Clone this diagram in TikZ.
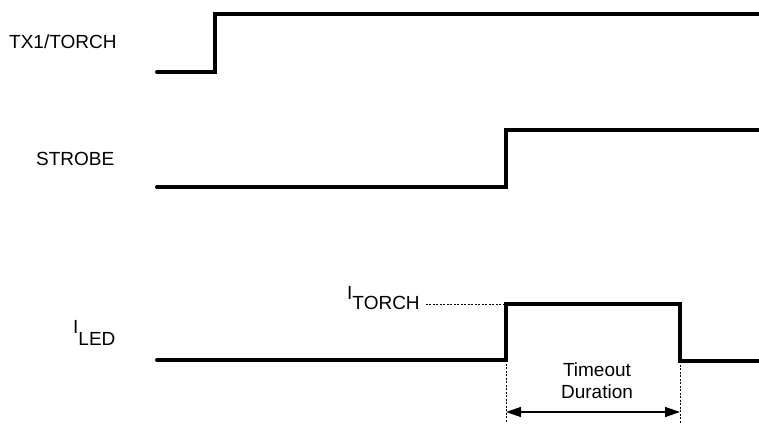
\documentclass[tikz,border=0pt]{standalone}
\usepackage{fontspec}
\setmainfont{Liberation Sans}
\usetikzlibrary{arrows.meta}

\begin{document}
\begin{tikzpicture}[x = 1pt, y = -1pt, font = \fontsize{19}{22}\selectfont,
        wave/.style = {line width = 4pt, line cap = round},
        guide/.style = {line width = 0.9pt, dash pattern = on 2pt off 1.5pt},
        label/.style = {anchor = base west, inner sep = 0pt}]
        \useasboundingbox (0,0) rectangle (759,423);

        \node [label] (tx) at (9,48) {TX1/TORCH};
        \node [label] (strobe) at (36,165) {STROBE};
        \node [label] (iled) at (73,333) {I\raisebox{-12pt}{LED}};
        \node [label] (itorch) at (347,299) {I\raisebox{-10pt}{TORCH}};

        \coordinate (rise) at (506,304);
        \coordinate (fall) at (680,304);
        \coordinate (riselow) at (506,360);
        \coordinate (falllow) at (680,361);
        \coordinate (risebot) at (506,423);
        \coordinate (fallbot) at (680,423);
        \coordinate (arrowl) at (506,412);
        \coordinate (arrowr) at (680,412);

        \draw [wave] (157,72) -- (215,72) -- (215,14) -- (765,14);
        \draw [wave] (157,187) -- (506,187) -- (506,130) -- (765,130);
        \draw [wave] (157,360) -- (riselow) -- (rise) -- (fall) -- (falllow) -- (765,361);

        \draw [guide] ([xshift = 6pt]itorch.east |- rise) -- (rise);
        \draw [guide] (riselow) -- (risebot);
        \draw [guide] (falllow) -- (fallbot);

        \draw [line width = 1.4pt, {Triangle[length = 15pt, width = 10pt]}-{Triangle[length = 15pt, width = 10pt]}]
            (arrowl) -- (arrowr);
        \node (timeout) at (597,381) [align = center] {Timeout\\Duration};
    \end{tikzpicture}
\end{document}
